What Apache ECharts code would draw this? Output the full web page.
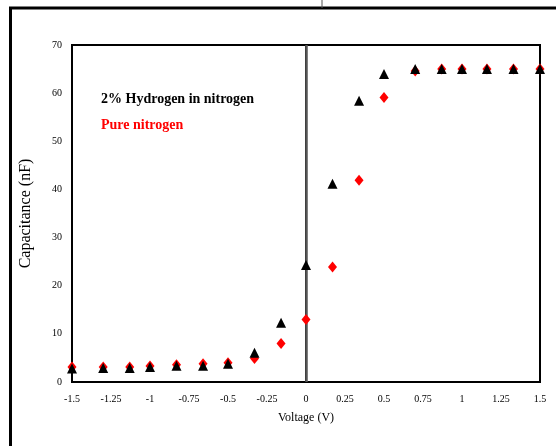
<!DOCTYPE html>
<html>
<head>
<meta charset="utf-8">
<script src="https://cdn.jsdelivr.net/npm/echarts@6/dist/echarts.min.js"></script>
<style>
html,body{margin:0;padding:0;background:#fff;}
#chart{width:556px;height:446px;}
</style>
</head>
<body>
<div id="chart"></div>
<script>
// Data
const voltage = [-1.5, -1.3, -1.13, -1.0, -0.83, -0.66, -0.5, -0.33, -0.16, 0, 0.17, 0.34, 0.5, 0.7, 0.87, 1.0, 1.16, 1.33, 1.5];
const hydrogenCap = [2.8, 2.9, 2.9, 3.1, 3.4, 3.4, 3.8, 6.1, 12.3, 24.3, 41.2, 58.4, 64.0, 65.0, 65.0, 65.0, 65.0, 65.0, 65.0];
const nitrogenCap = [3.1, 3.1, 3.1, 3.3, 3.6, 3.8, 4.0, 4.9, 8.0, 13.0, 23.9, 41.9, 59.1, 64.6, 65.0, 65.0, 65.0, 65.0, 65.0];
const seriesNames = ['2% Hydrogen in nitrogen', 'Pure nitrogen'];
const xTitle = 'Voltage (V)';
const yTitle = 'Capacitance (nF)';

const serif = '"Liberation Serif", "DejaVu Serif", serif';
const pairs = (xs, ys) => xs.map((x, i) => [x, ys[i]]);

const chart = echarts.init(document.getElementById('chart'), null, {renderer: 'canvas'});
chart.setOption({
  animation: false,
  backgroundColor: '#fff',
  grid: {left: 72, top: 45, right: 16, bottom: 64, show: true, borderColor: '#000', borderWidth: 2, backgroundColor: 'transparent'},
  legend: {
    orient: 'vertical',
    left: 91, top: 87,
    icon: 'none',
    itemWidth: 0, itemHeight: 14, itemGap: 12,
    selectedMode: false,
    textStyle: {fontFamily: serif, fontWeight: 'bold', fontSize: 14},
    data: [
      {name: seriesNames[0], textStyle: {color: '#000'}},
      {name: seriesNames[1], textStyle: {color: '#ff0000'}}
    ]
  },
  xAxis: {
    type: 'value', min: -1.5, max: 1.5, interval: 0.25,
    name: xTitle, nameLocation: 'middle', nameGap: 30,
    nameTextStyle: {fontFamily: serif, fontSize: 12, color: '#000'},
    axisLine: {show: true, onZero: false, lineStyle: {color: '#000', width: 2}},
    axisTick: {show: false},
    splitLine: {show: false},
    axisLabel: {fontFamily: serif, fontSize: 10, color: '#000', margin: 12}
  },
  yAxis: {
    type: 'value', min: 0, max: 70, interval: 10,
    name: yTitle, nameLocation: 'middle', nameGap: 38,
    nameTextStyle: {fontFamily: serif, fontSize: 16, color: '#000'},
    axisLine: {show: true, lineStyle: {color: '#000', width: 2}},
    axisTick: {show: false},
    splitLine: {show: false},
    axisLabel: {fontFamily: serif, fontSize: 10, color: '#000', margin: 10}
  },
  series: [
    {
      name: seriesNames[1], type: 'scatter', z: 3,
      symbol: 'diamond', symbolSize: [9, 11],
      itemStyle: {color: '#ff0000', opacity: 1},
      data: pairs(voltage, nitrogenCap),
      markLine: {
        z: 1, silent: true, symbol: 'none', label: {show: false},
        lineStyle: {color: '#555', width: 2.5, type: 'solid'},
        data: [{xAxis: 0}]
      }
    },
    {
      name: seriesNames[0], type: 'scatter', z: 4,
      symbol: 'triangle', symbolSize: [10, 10],
      itemStyle: {color: '#000', opacity: 1},
      data: pairs(voltage, hydrogenCap)
    }
  ],
  graphic: [
    {type: 'rect', shape: {x: 10.5, y: 8, width: 700, height: 700}, style: {fill: 'none', stroke: '#000', lineWidth: 3}, z: 0},
    {type: 'line', shape: {x1: 322, y1: 0, x2: 322, y2: 8}, style: {stroke: '#555', lineWidth: 1}}
  ]
});
</script>
</body>
</html>
